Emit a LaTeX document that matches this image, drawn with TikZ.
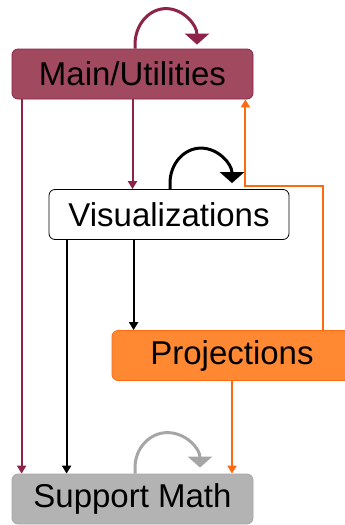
\documentclass[tikz,border=0pt]{standalone}
\usepackage{fontspec}
\setmainfont{Liberation Sans}
\usepackage{tikz}
\usetikzlibrary{arrows.meta,positioning,calc}
\definecolor{modmaroon}{HTML}{8E2349}
\definecolor{modmaroonfill}{HTML}{A0495F}
\definecolor{modorange}{HTML}{FF6A10}
\definecolor{modorangefill}{HTML}{FF8833}
\definecolor{modgray}{HTML}{A6A6A6}
\definecolor{modgrayfill}{HTML}{B3B3B3}

\tikzset{
  modbox/.style={draw,rounded corners=6pt,minimum height=50pt,inner sep=0pt,
    font=\fontsize{33}{38}\selectfont,line width=0.8pt},
  dep/.style={line width=2pt,-{Triangle[length=8pt,width=9pt]}},
  selfloop/.style={line width=3pt,-{Triangle[length=11pt,width=24pt]}}
}

\begin{document}
\begin{tikzpicture}[x=1pt,y=-1pt]
    \useasboundingbox (0,0) rectangle (345,525);
    % modules
    \node[modbox,draw=modmaroon,fill=modmaroonfill,minimum width=241pt] (main) at (132.5,74) {Main/Utilities};
    \node[modbox,draw=black,fill=white,minimum width=240pt] (vis) at (169,214.5) {Visualizations};
    \node[modbox,draw=modorange,fill=modorangefill,minimum width=240pt] (proj) at (232,355.5) {Projections};
    \node[modbox,draw=modgray,fill=modgrayfill,minimum width=241pt] (math) at (132.5,499) {Support Math};
    % helper points
    \coordinate (ml) at ([xshift=10pt]main.south west);
    \coordinate (vl) at ([xshift=18pt]vis.south west);
    \coordinate (pv) at ([xshift=22pt]proj.north west);
    \coordinate (pr) at ([xshift=211pt]proj.north west);
    \coordinate (mr) at ([xshift=-8pt]main.south east);
    % dependencies
    \draw[dep,modmaroon] (ml) -- (ml |- math.north);
    \draw[dep,modmaroon] (main.south) -- (main.south |- vis.north);
    \draw[dep,black] (vl) -- (vl |- math.north);
    \draw[dep,black] (pv |- vis.south) -- (pv);
    \draw[dep,modorange] (proj.south) -- (proj.south |- math.north);
    \draw[dep,modorange] (pr) -- ++(0,-144) -| (mr);
    % self references
    \draw[selfloop,modmaroon] ([xshift=2.5pt]main.north) -- ++(0,-4)
      arc[start angle=180,end angle=360,x radius=31,y radius=36];
    \draw[selfloop,black] ([xshift=1pt]vis.north) -- ++(0,-6)
      arc[start angle=180,end angle=360,x radius=31,y radius=35];
    \draw[selfloop,modgray] ([xshift=2.5pt]math.north) -- ++(0,-6)
      arc[start angle=180,end angle=360,x radius=32.5,y radius=35];
  \end{tikzpicture}
\end{document}
